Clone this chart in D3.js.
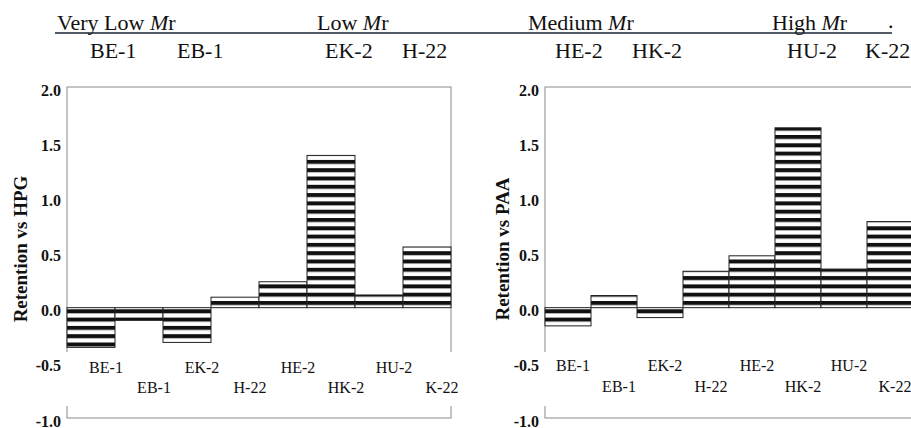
<!DOCTYPE html>
<html lang="en">
  <head>
    <meta charset="UTF-8" />
    <title>Retention vs HPG / PAA</title>
    <script src="https://d3js.org/d3.v7.min.js"></script>
    <style>
      body {
        margin: 0;
        background: #fff;
      }
      text {
        font-family: "Liberation Serif", "DejaVu Serif", serif;
      }
      .tick-label {
        font-size: 16px;
        font-weight: bold;
      }
      .y-title {
        font-size: 19px;
        font-weight: bold;
      }
      .cat-label {
        font-size: 16px;
      }
      .head {
        font-size: 22px;
      }
    </style>
  </head>
  <body>
    <svg id="chart" width="911" height="428"></svg>
    <script>
      // data
      let categories = ["BE-1", "EB-1", "EK-2", "H-22", "HE-2", "HK-2", "HU-2", "K-22"];
      let hpgValues = [-0.36, -0.115, -0.315, 0.095, 0.235, 1.38, 0.115, 0.55];
      let paaValues = [-0.165, 0.11, -0.09, 0.33, 0.47, 1.63, 0.35, 0.78];
      let yTickValues = [-1.0, -0.5, 0.0, 0.5, 1.0, 1.5, 2.0];
      let yTickLabels = ["-1.0", "-0.5", "0.0", "0.5", "1.0", "1.5", "2.0"];
      let groupLabels = ["Very Low ", "Low ", "Medium ", "High "];

      // header layout (x start of each text)
      let groupX = [57, 317, 528, 772];
      let codeX = [90, 177, 325, 402, 555, 632, 787, 865];

      let serif = "'Liberation Serif', 'DejaVu Serif', serif";
      let svg = d3.select("#chart").attr("font-family", serif);

      // horizontal stripe fill
      let defs = svg.append("defs");
      let pat = defs
        .append("pattern")
        .attr("id", "stripes")
        .attr("patternUnits", "userSpaceOnUse")
        .attr("width", 10)
        .attr("height", 8.3)
        .attr("y", 301);
      pat.append("rect").attr("width", 10).attr("height", 8.3).attr("fill", "#fff");
      pat.append("rect").attr("width", 10).attr("height", 4).attr("fill", "#111");

      // header
      let head = svg.append("g");
      groupLabels.forEach(function (g, i) {
        let t = head
          .append("text")
          .attr("class", "head")
          .attr("x", groupX[i])
          .attr("y", 30)
          .attr("fill", "#111");
        t.append("tspan").text(g);
        t.append("tspan").attr("font-style", "italic").text("M");
        t.append("tspan").text("r");
      });
      head.append("text").attr("class", "head").attr("x", 888).attr("y", 28).text(".");
      head
        .append("line")
        .attr("x1", 55)
        .attr("x2", 892)
        .attr("y1", 33)
        .attr("y2", 33)
        .attr("stroke", "#1a2433")
        .attr("stroke-width", 1.5);
      head
        .selectAll("text.code")
        .data(categories)
        .enter()
        .append("text")
        .attr("class", "code head")
        .attr("x", (d, i) => codeX[i])
        .attr("y", 58)
        .attr("fill", "#111")
        .text((d) => d);

      let y = d3.scaleLinear().domain([-1, 2]).range([418, 87]);

      function drawPanel(values, title, left, right, titleX, labelShift, labelY) {
        let x = d3.scaleBand().domain(categories).range([left, right]).padding(0);
        let g = svg.append("g");

        // frame
        g.append("rect")
          .attr("x", left)
          .attr("y", y(2))
          .attr("width", right - left)
          .attr("height", y(-1) - y(2))
          .attr("fill", "none")
          .attr("stroke", "#8a8a8a")
          .attr("stroke-width", 1);

        // white box behind the category labels
        g.append("rect")
          .attr("x", left - 4)
          .attr("y", 352)
          .attr("width", right - left + 8)
          .attr("height", 54)
          .attr("fill", "#fff");

        // y axis labels
        let axis = d3
          .axisLeft(y)
          .tickValues(yTickValues)
          .tickSize(0)
          .tickPadding(6)
          .tickFormat((d, i) => yTickLabels[i]);
        let ax = g.append("g").attr("transform", `translate(${left},0)`).call(axis);
        ax.attr("font-family", serif).attr("font-size", null);
        ax.select(".domain").remove();
        ax.selectAll("text")
          .attr("class", "tick-label")
          .attr("fill", "#111")
          .attr("dy", "0.5em");

        g.append("text")
          .attr("class", "y-title")
          .attr("transform", `translate(${titleX},249) rotate(-90)`)
          .attr("text-anchor", "middle")
          .attr("fill", "#111")
          .text(title);

        // bars
        g.selectAll("rect.bar")
          .data(values)
          .enter()
          .append("rect")
          .attr("class", "bar")
          .attr("x", (d, i) => x(categories[i]))
          .attr("width", x.bandwidth())
          .attr("y", (d) => y(Math.max(0, d)))
          .attr("height", (d) => Math.abs(y(d) - y(0)))
          .attr("fill", "url(#stripes)")
          .attr("stroke", "#222")
          .attr("stroke-width", 1);

        // staggered category labels
        g.selectAll("text.cat")
          .data(categories)
          .enter()
          .append("text")
          .attr("class", "cat-label")
          .attr("x", (d) => x(d) + x.bandwidth() / 2 + labelShift)
          .attr("y", (d, i) => labelY[i % 2])
          .attr("text-anchor", "middle")
          .attr("fill", "#111")
          .text((d) => d);
      }

      drawPanel(hpgValues, "Retention vs HPG", 67, 451, 27, 15, [373, 393]);
      drawPanel(paaValues, "Retention vs PAA", 545, 913, 509, 5, [371, 392]);
    </script>
  </body>
</html>
